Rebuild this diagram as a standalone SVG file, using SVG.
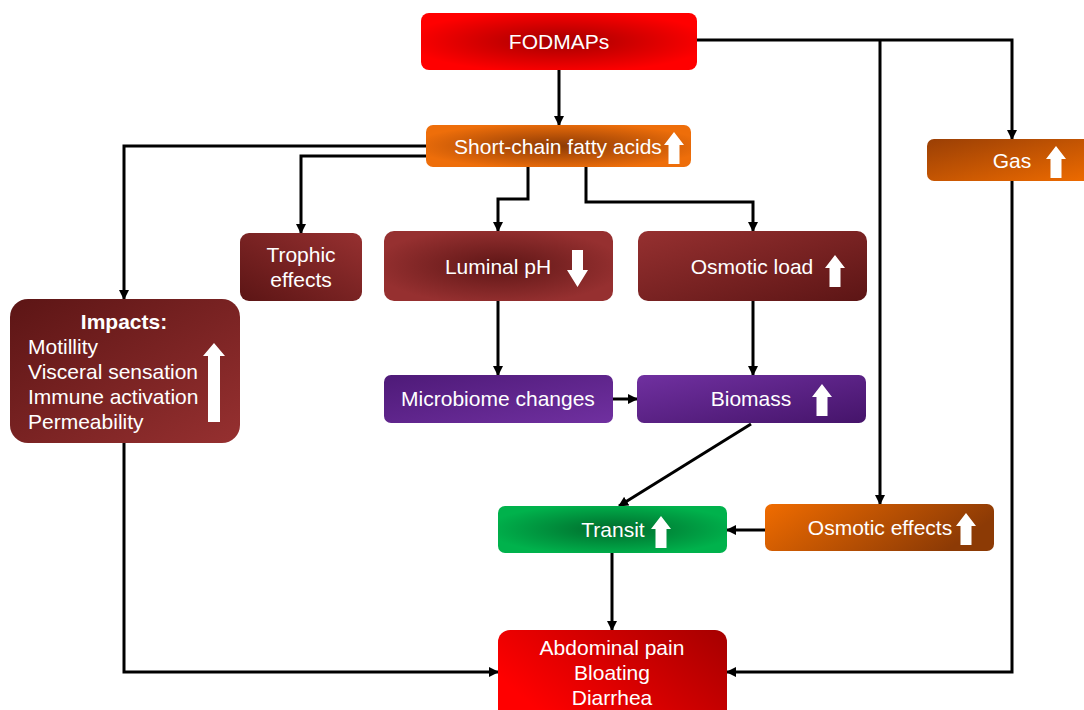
<svg xmlns="http://www.w3.org/2000/svg" width="1084" height="710" viewBox="0 0 1084 710">
<defs>
<radialGradient id="gRed" cx="0.5" cy="0.5" r="0.55">
<stop offset="0" stop-color="#a30000"/><stop offset="1" stop-color="#ff0000"/></radialGradient>
<radialGradient id="gOrange" cx="0.5" cy="0.5" r="0.55">
<stop offset="0" stop-color="#8c3a05"/><stop offset="1" stop-color="#ee6e0a"/></radialGradient>
<linearGradient id="gGas" x1="0" y1="0" x2="1" y2="1">
<stop offset="0" stop-color="#9a3f05"/><stop offset="1" stop-color="#f06c00"/></linearGradient>
<linearGradient id="gOsmEff" x1="0" y1="0" x2="1" y2="0.3">
<stop offset="0" stop-color="#f06c00"/><stop offset="1" stop-color="#8c3a05"/></linearGradient>
<radialGradient id="gMaroonC" cx="0.5" cy="0.5" r="0.55">
<stop offset="0" stop-color="#5e1616"/><stop offset="1" stop-color="#963030"/></radialGradient>
<linearGradient id="gMaroonTL" x1="0" y1="0" x2="1" y2="1">
<stop offset="0" stop-color="#5c1515"/><stop offset="1" stop-color="#963030"/></linearGradient>
<linearGradient id="gMaroonBL" x1="0" y1="1" x2="1" y2="0">
<stop offset="0" stop-color="#5c1515"/><stop offset="1" stop-color="#963030"/></linearGradient>
<linearGradient id="gMaroonBR" x1="0" y1="0" x2="1" y2="1">
<stop offset="0" stop-color="#963030"/><stop offset="1" stop-color="#5c1515"/></linearGradient>
<linearGradient id="gPurple1" x1="0" y1="0" x2="1" y2="1">
<stop offset="0" stop-color="#4e1a78"/><stop offset="1" stop-color="#7030a0"/></linearGradient>
<linearGradient id="gPurple2" x1="0" y1="0" x2="1" y2="1">
<stop offset="0" stop-color="#7030a0"/><stop offset="1" stop-color="#45146a"/></linearGradient>
<radialGradient id="gGreen" cx="0.5" cy="0.5" r="0.55">
<stop offset="0" stop-color="#006b2c"/><stop offset="1" stop-color="#00b24c"/></radialGradient>
<linearGradient id="gRed2" x1="0" y1="0.5" x2="1" y2="0">
<stop offset="0" stop-color="#ff0000"/><stop offset="1" stop-color="#a50000"/></linearGradient>
<marker id="ah" viewBox="0 0 10 10" refX="9" refY="5" markerWidth="3.4" markerHeight="3.4" orient="auto" markerUnits="strokeWidth">
<path d="M0,0 L10,5 L0,10 z" fill="#000"/></marker>
<path id="up" d="M-5.5,0 L-5.5,-19 L-10,-19 L0,-32 L10,-19 L5.5,-19 L5.5,0 z"/>
</defs>
<style>
.t{font-family:"Liberation Sans",Arial,sans-serif;font-size:21px;fill:#fff;text-anchor:middle}
.l{text-anchor:start}
.b{font-weight:bold}
.c{fill:none;stroke:#000;stroke-width:3;marker-end:url(#ah)}
.ar{fill:#fff}
</style>
<rect width="1084" height="710" fill="#fff"/>
<g id="connectors">
<path class="c" d="M559,70 V125"/>
<path class="c" d="M697,40 H1012 V139"/>
<path class="c" d="M880,40 V504"/>
<path class="c" d="M426,146 H124 V299"/>
<path class="c" d="M426,156 H301 V233"/>
<path class="c" d="M528,167 V199 H498 V231"/>
<path class="c" d="M586,167 V202 H753 V231"/>
<path class="c" d="M498,301 V375"/>
<path class="c" d="M753,301 V375"/>
<path class="c" d="M613,399 H637"/>
<path class="c" d="M751,424 L619,506"/>
<path class="c" d="M765,530 H727"/>
<path class="c" d="M612,553 V630"/>
<path class="c" d="M124,443 V672 H498"/>
<path class="c" d="M1012,181 V672 H727"/>
</g>
<g id="fodmaps">
<rect x="421" y="13" width="276" height="57" rx="8" fill="url(#gRed)"/>
<text class="t" x="559" y="49">FODMAPs</text>
</g>
<g id="scfa">
<rect x="426" y="125" width="265" height="42" rx="7" fill="url(#gOrange)"/>
<text class="t" x="558" y="154">Short-chain fatty acids</text>
<use href="#up" x="674" y="164" class="ar"/>
</g>
<g id="gas">
<rect x="927" y="139" width="170" height="42" rx="7" fill="url(#gGas)"/>
<text class="t" x="1012" y="168">Gas</text>
<use href="#up" x="1056" y="178" class="ar"/>
</g>
<g id="trophic">
<rect x="240" y="233" width="122" height="68" rx="9" fill="url(#gMaroonBL)"/>
<text class="t" x="301" y="262">Trophic</text>
<text class="t" x="301" y="287">effects</text>
</g>
<g id="luminal">
<rect x="384" y="231" width="229" height="70" rx="10" fill="url(#gMaroonC)"/>
<text class="t" x="498" y="274">Luminal pH</text>
<path class="ar" d="M572,250 H583 V270 H588 L577.5,287 L567,270 H572 z"/>
</g>
<g id="osmload">
<rect x="638" y="231" width="229" height="70" rx="10" fill="url(#gMaroonBR)"/>
<text class="t" x="752" y="274">Osmotic load</text>
<use href="#up" x="835" y="287" class="ar"/>
</g>
<g id="impacts">
<rect x="10" y="299" width="230" height="144" rx="18" fill="url(#gMaroonTL)"/>
<text class="t b" x="124" y="329">Impacts:</text>
<text class="t l" x="28" y="354">Motillity</text>
<text class="t l" x="28" y="379">Visceral sensation</text>
<text class="t l" x="28" y="404">Immune activation</text>
<text class="t l" x="28" y="429">Permeability</text>
<path class="ar" d="M208,422 V356 H203 L214,343 L225,356 H220 V422 z"/>
</g>
<g id="microbiome">
<rect x="384" y="375" width="229" height="48" rx="7" fill="url(#gPurple1)"/>
<text class="t" x="498" y="406">Microbiome changes</text>
</g>
<g id="biomass">
<rect x="637" y="375" width="229" height="48" rx="7" fill="url(#gPurple2)"/>
<text class="t" x="751" y="406">Biomass</text>
<use href="#up" x="822" y="416" class="ar"/>
</g>
<g id="transit">
<rect x="498" y="506" width="229" height="47" rx="7" fill="url(#gGreen)"/>
<text class="t" x="613" y="537">Transit</text>
<use href="#up" x="661" y="548" class="ar"/>
</g>
<g id="osmeffects">
<rect x="765" y="504" width="229" height="47" rx="7" fill="url(#gOsmEff)"/>
<text class="t" x="880" y="535">Osmotic effects</text>
<use href="#up" x="966" y="545" class="ar"/>
</g>
<g id="abdominal">
<rect x="498" y="630" width="229" height="95" rx="12" fill="url(#gRed2)"/>
<text class="t" x="612" y="655">Abdominal pain</text>
<text class="t" x="612" y="680">Bloating</text>
<text class="t" x="612" y="705">Diarrhea</text>
</g>
</svg>
